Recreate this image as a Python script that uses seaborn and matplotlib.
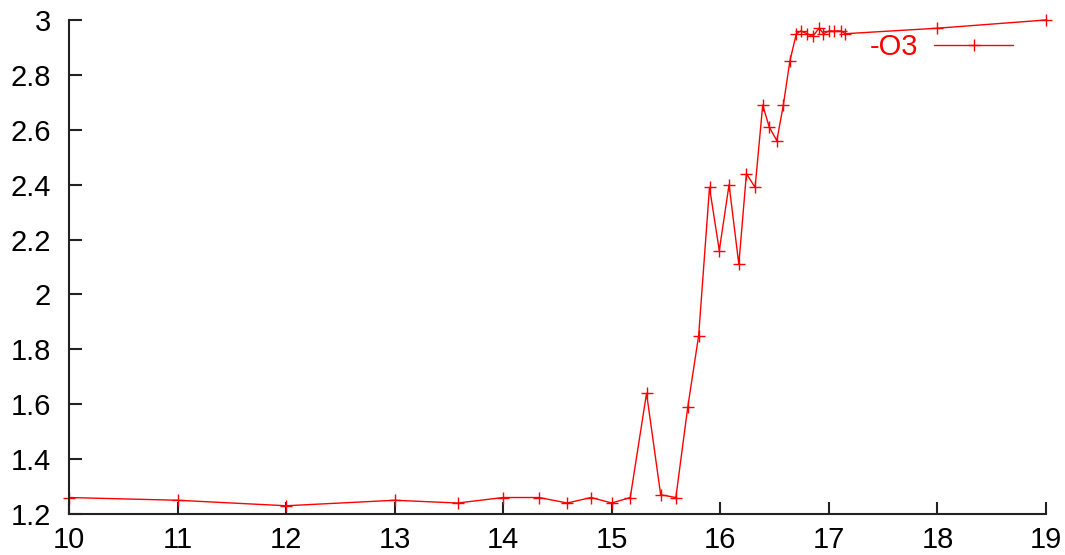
import matplotlib
matplotlib.use("Agg")
import matplotlib.pyplot as plt
import seaborn as sns
import pandas as pd

# Measured series
x_vals = [10, 11, 12, 13, 13.58, 14, 14.33, 14.59, 14.81, 15.0, 15.17, 15.32,
          15.45, 15.59, 15.70, 15.80, 15.90, 15.99, 16.08, 16.17, 16.24, 16.32,
          16.39, 16.45, 16.52, 16.58, 16.64, 16.70, 16.74, 16.80, 16.85, 16.91,
          16.95, 17.0, 17.05, 17.11, 17.15, 18, 19]
y_vals = [1.26, 1.25, 1.23, 1.25, 1.24, 1.26, 1.26, 1.24, 1.26, 1.24, 1.26, 1.64,
          1.27, 1.26, 1.59, 1.85, 2.39, 2.16, 2.40, 2.11, 2.44, 2.39,
          2.69, 2.61, 2.56, 2.69, 2.85, 2.95, 2.96, 2.95, 2.94, 2.97,
          2.95, 2.96, 2.96, 2.96, 2.95, 2.97, 3.00]
series_label = "-O3"

x_ticks = list(range(10, 20))
y_ticks = [1.2, 1.4, 1.6, 1.8, 2.0, 2.2, 2.4, 2.6, 2.8, 3.0]
y_tick_labels = ["1.2", "1.4", "1.6", "1.8", "2", "2.2", "2.4", "2.6", "2.8", "3"]

sns.set_style("ticks")
plt.rcParams["font.family"] = ["Liberation Sans", "DejaVu Sans"]

df = pd.DataFrame({"x": x_vals, "y": y_vals})

fig = plt.figure(figsize=(10.65, 5.55), dpi=100)
ax = fig.add_axes([0.0648, 0.0739, 0.9174, 0.8901])

sns.lineplot(data=df, x="x", y="y", ax=ax, sort=False, color="red",
             linewidth=1.0, marker="+", markersize=9, markeredgewidth=1.0,
             markeredgecolor="red", label=series_label)
for ln in ax.lines:
    ln.set_clip_on(False)

ax.set_xlim(10, 19)
ax.set_ylim(1.2, 3.0)
ax.set_xticks(x_ticks)
ax.set_xticklabels([str(t) for t in x_ticks])
ax.set_yticks(y_ticks)
ax.set_yticklabels(y_tick_labels)
ax.set_xlabel("")
ax.set_ylabel("")

for side in ["top", "right"]:
    ax.spines[side].set_visible(False)
for side in ["left", "bottom"]:
    ax.spines[side].set_linewidth(1.5)
    ax.spines[side].set_color("#222222")

ax.tick_params(axis="both", direction="in", length=9, width=1.5,
               labelsize=21, colors="#222222", labelcolor="black")
ax.tick_params(axis="y", pad=13)
ax.tick_params(axis="x", pad=9)

leg = ax.legend(loc="center right", bbox_to_anchor=(0.9514, 0.915),
                bbox_transform=fig.transFigure, frameon=False,
                markerfirst=False, labelcolor="red", fontsize=21,
                handlelength=2.7, handletextpad=0.56, borderaxespad=0,
                borderpad=0)

fig.savefig("out.png", dpi=100)
